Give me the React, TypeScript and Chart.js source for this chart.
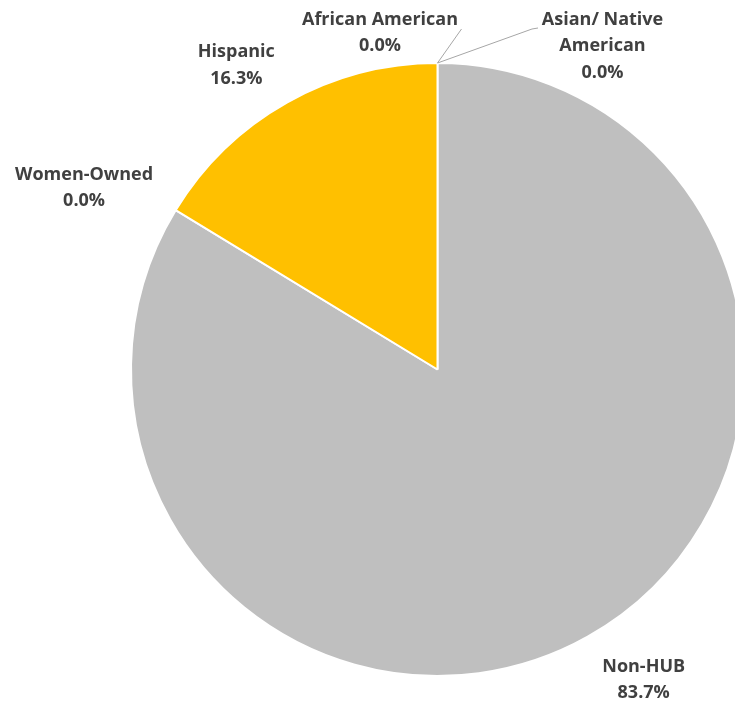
import React, { useEffect, useRef } from "react";
import { Chart, registerables } from "chart.js";

Chart.register(...registerables);

const categories = ["Non-HUB", "Women-Owned", "Hispanic", "African American", "Asian/ Native American"];
const values = [83.7, 0, 16.3, 0, 0];
const valueLabels = ["83.7%", "0.0%", "16.3%", "0.0%", "0.0%"];
const labelLines = [
  ["Non-HUB"],
  ["Women-Owned"],
  ["Hispanic"],
  ["African American"],
  ["Asian/ Native", "American"],
];
const colors = ["#BFBFBF", "#A5A5A5", "#FFC000", "#5B9BD5", "#70AD47"];

// label placement offsets relative to the slice's outer mid-point
const labelOffsets = [
  { dx: 56, dy: 35 },
  { dx: -91.6, dy: -30.2 },
  { dx: -51, dy: -45 },
  { dx: -57.5, dy: -38 },
  { dx: 165, dy: -38 },
];
const leaders: ({ dx: number; dy: number }[] | null)[] = [
  null,
  null,
  null,
  [{ dx: 24, dy: -34 }],
  [{ dx: 94.5, dy: -34 }, { dx: 100.5, dy: -35 }],
];

const FONT = "bold 18px 'Open Sans'";
const LINE_H = 26.3;

const labelPlugin = {
  id: "pieLabels",
  afterDatasetsDraw(chart: any) {
    const ctx = chart.ctx as CanvasRenderingContext2D;
    const meta = chart.getDatasetMeta(0);
    meta.data.forEach((arc: any, i: number) => {
      const { x, y, startAngle, endAngle, outerRadius } = arc.getProps(
        ["x", "y", "startAngle", "endAngle", "outerRadius"],
        true
      );
      const mid = (startAngle + endAngle) / 2;
      const px = x + Math.cos(mid) * outerRadius;
      const py = y + Math.sin(mid) * outerRadius;
      ctx.save();
      const lead = leaders[i];
      if (lead) {
        ctx.strokeStyle = "#A6A6A6";
        ctx.lineWidth = 1;
        ctx.beginPath();
        ctx.moveTo(px, py);
        lead.forEach((p) => ctx.lineTo(px + p.dx, py + p.dy));
        ctx.stroke();
      }
      ctx.fillStyle = "#404040";
      ctx.font = FONT;
      ctx.textAlign = "center";
      ctx.textBaseline = "alphabetic";
      const lines = [...labelLines[i], valueLabels[i]];
      const off = labelOffsets[i];
      lines.forEach((t, k) => {
        ctx.fillText(t, px + off.dx, py + off.dy + k * LINE_H);
      });
      ctx.restore();
    });
  },
};

export default function App() {
  const ref = useRef<HTMLCanvasElement>(null);
  useEffect(() => {
    if (!ref.current) return;
    const chart = new Chart(ref.current, {
      type: "pie",
      data: {
        labels: categories,
        datasets: [
          {
            data: values,
            backgroundColor: colors,
            borderColor: "#FFFFFF",
            borderWidth: 2,
          },
        ],
      },
      options: {
        responsive: false,
        animation: false,
        devicePixelRatio: 1,
        layout: { padding: { left: 130, right: 15, top: 62, bottom: 25 } },
        plugins: {
          legend: { display: false },
          tooltip: { enabled: false },
        },
      },
      plugins: [labelPlugin],
    });
    return () => chart.destroy();
  }, []);
  return (
    <div
      style={{
        position: "absolute",
        left: 0,
        top: 0,
        width: 735,
        height: 702,
        overflow: "hidden",
        background: "#fff",
      }}
    >
      <canvas ref={ref} width={760} height={702} style={{ width: 760, height: 702 }} />
    </div>
  );
}
